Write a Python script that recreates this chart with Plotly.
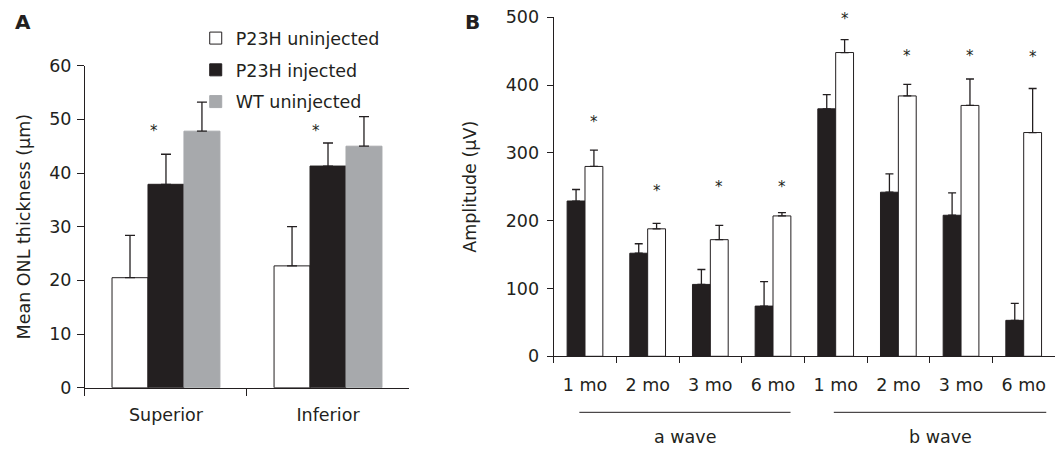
import plotly.graph_objects as go

# ---------------- Panel A data ----------------
regions = ["Superior", "Inferior"]
onl_p23h_uninjected = [20.5, 22.7]
onl_p23h_uninjected_err = [7.9, 7.3]
onl_p23h_injected = [37.9, 41.3]
onl_p23h_injected_err = [5.6, 4.3]
onl_wt_uninjected = [47.8, 45.0]
onl_wt_uninjected_err = [5.4, 5.5]
onl_sig_y = [47.9, 47.9]

# ---------------- Panel B data ----------------
erg_ids = ["a1", "a2", "a3", "a6", "b1", "b2", "b3", "b6"]
erg_labels = ["1 mo", "2 mo", "3 mo", "6 mo", "1 mo", "2 mo", "3 mo", "6 mo"]
erg_dark = [229, 152, 106, 74, 365, 242, 208, 53]
erg_dark_err = [17, 14, 22, 36, 21, 27, 33, 25]
erg_open = [280, 188, 172, 207, 448, 384, 370, 330]
erg_open_err = [24, 8, 21, 5, 19, 17, 39, 65]
erg_sig_y = [346, 244, 249, 249, 498, 443, 443, 441]
wave_groups = ["a wave", "b wave"]
wave_spans = [(-0.09, 3.28), (3.97, 7.36)]

INK = "#231f20"
GRAY = "#a7a9ac"
FONT = "DejaVu Sans"
FS = 17.5


def err(vals):
    return dict(type="data", array=vals, arrayminus=[0] * len(vals), symmetric=False,
                color=INK, thickness=1.3)


fig = go.Figure()

# Panel A bars
wa = 0.222
for name, vals, e, color, off in [
    ("P23H uninjected", onl_p23h_uninjected, onl_p23h_uninjected_err, "white", -1.5 * wa),
    ("P23H injected", onl_p23h_injected, onl_p23h_injected_err, INK, -0.5 * wa),
    ("WT uninjected", onl_wt_uninjected, onl_wt_uninjected_err, GRAY, 0.5 * wa),
]:
    ed = err(e)
    ed["width"] = 5
    fig.add_trace(go.Bar(
        x=regions, y=vals, name=name, width=wa, offset=off,
        marker=dict(color=color, line=dict(color=INK if color == "white" else color, width=1)),
        error_y=ed, xaxis="x", yaxis="y", legendgroup=name,
    ))

# Panel B bars
wb = 0.285
for vals, e, color, off in [
    (erg_dark, erg_dark_err, INK, -wb),
    (erg_open, erg_open_err, "white", 0),
]:
    ed = err(e)
    ed["width"] = 4
    fig.add_trace(go.Bar(
        x=erg_ids, y=vals, width=wb, offset=off, showlegend=False,
        marker=dict(color=color, line=dict(color=INK, width=1)),
        error_y=ed, xaxis="x2", yaxis="y2",
    ))

annotations = []
for r, y in zip(regions, onl_sig_y):
    annotations.append(dict(x=r, y=y, xref="x", yref="y", text="*", showarrow=False,
                            xshift=-12, font=dict(size=15, color=INK)))
for c, y in zip(erg_ids, erg_sig_y):
    annotations.append(dict(x=c, y=y, xref="x2", yref="y2", text="*", showarrow=False,
                            xshift=9, font=dict(size=15, color=INK)))

shapes = []
for g, (a, b) in zip(wave_groups, wave_spans):
    shapes.append(dict(type="line", xref="x2", yref="paper", x0=a, x1=b, y0=0.0817, y1=0.0817,
                       line=dict(color=INK, width=1)))
    annotations.append(dict(x=(a + b) / 2, y=0.027, xref="x2", yref="paper", text=g,
                            yanchor="middle", showarrow=False, font=dict(size=FS, color=INK)))

annotations.append(dict(x=0.0123, y=0.951, xref="paper", yref="paper", text="<b>A</b>",
                        xanchor="left", yanchor="middle", showarrow=False,
                        font=dict(size=20, color=INK)))
annotations.append(dict(x=0.4375, y=0.951, xref="paper", yref="paper", text="<b>B</b>",
                        xanchor="left", yanchor="middle", showarrow=False,
                        font=dict(size=20, color=INK)))

axis_common = dict(showline=True, linecolor=INK, linewidth=1, ticks="outside",
                   tickcolor=INK, showgrid=False, zeroline=False, automargin=False,
                   tickfont=dict(family=FONT, size=FS, color=INK))

fig.update_layout(
    width=1058, height=449,
    margin=dict(l=0, r=0, t=0, b=0),
    paper_bgcolor="white", plot_bgcolor="white",
    font=dict(family=FONT, size=FS, color=INK),
    barmode="group",
    xaxis=dict(**axis_common, domain=[0.0803, 0.3866], anchor="y", type="category",
               tickson="boundaries", ticklen=7, ticklabelstandoff=11),
    yaxis=dict(**axis_common, domain=[0.1365, 0.8537], anchor="x", range=[0, 60], dtick=10,
               ticklen=7, ticklabelstandoff=2,
               title=dict(text="Mean ONL thickness (μm)", standoff=14,
                          font=dict(family=FONT, size=FS, color=INK))),
    xaxis2=dict(**axis_common, domain=[0.5233, 0.9972], anchor="y2", type="category",
                tickson="boundaries", ticklen=6, ticklabelstandoff=13,
                tickmode="array", tickvals=erg_ids, ticktext=erg_labels),
    yaxis2=dict(**axis_common, domain=[0.2065, 0.9615], anchor="x2", range=[0, 500], dtick=100,
                ticklen=6, ticklabelstandoff=4,
                title=dict(text="Amplitude (μV)", standoff=24,
                           font=dict(family=FONT, size=FS, color=INK))),
    legend=dict(x=0.185, y=0.955, xanchor="left", yanchor="top", bgcolor="rgba(0,0,0,0)",
                font=dict(family=FONT, size=FS, color=INK), tracegroupgap=6,
                traceorder="grouped"),
    annotations=annotations,
    shapes=shapes,
)

fig.write_html("out.html", config={"displayModeBar": False},
               post_script="document.body.style.margin='0';")
